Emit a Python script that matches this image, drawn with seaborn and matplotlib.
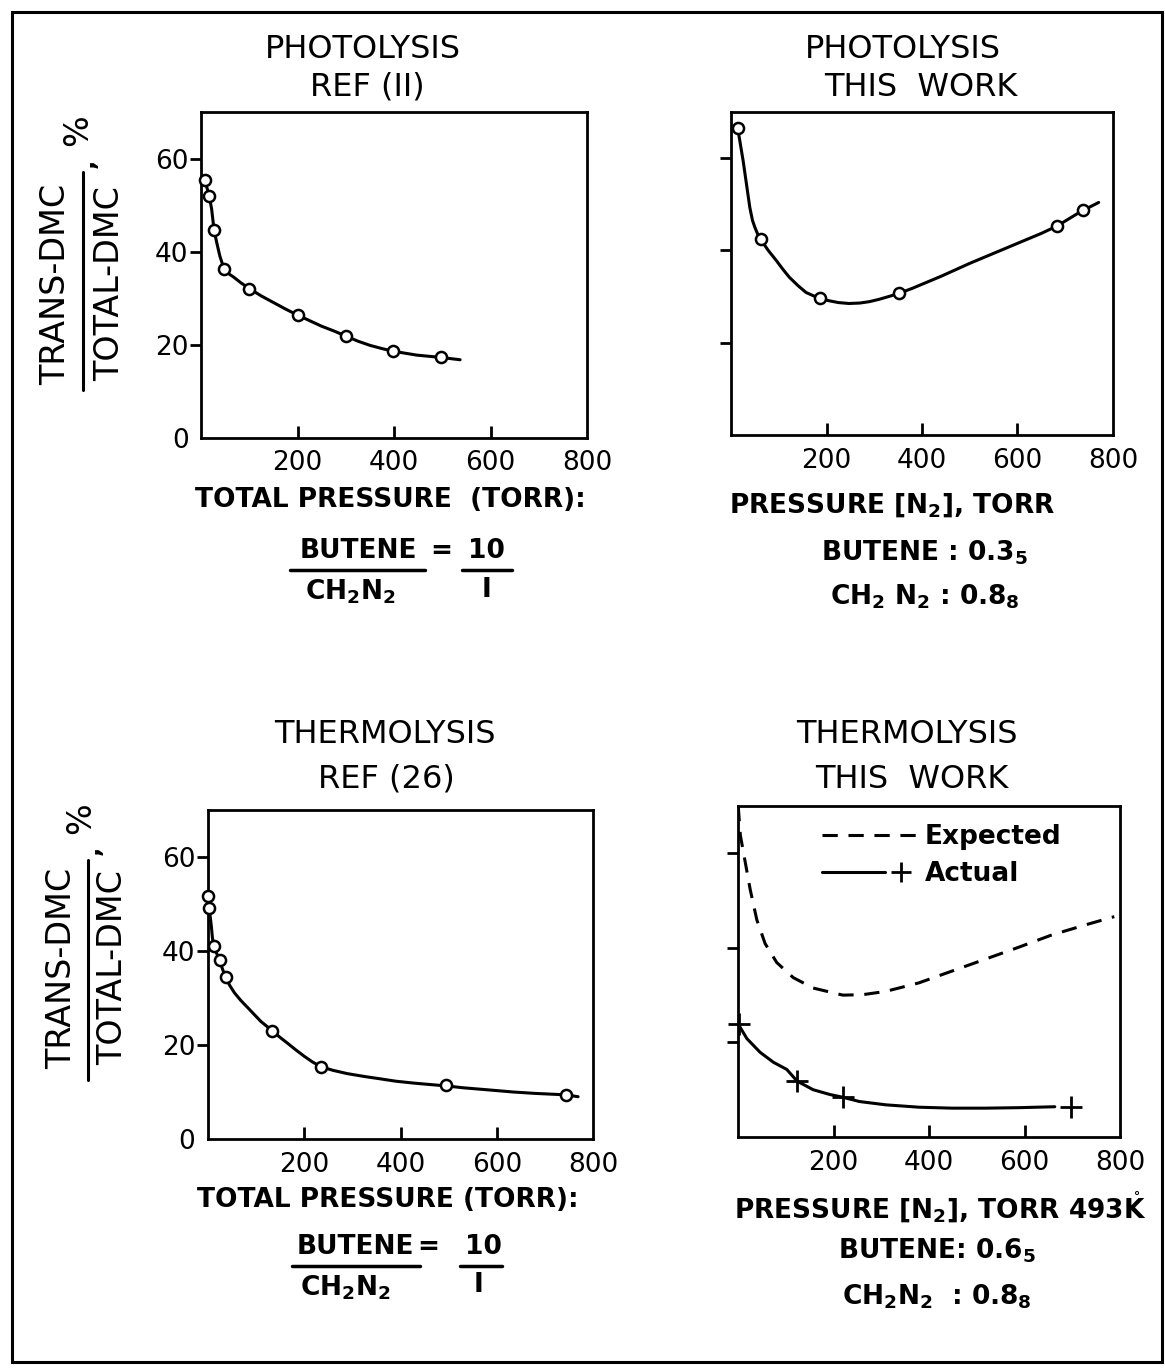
import numpy as np
import pandas as pd
import matplotlib
matplotlib.use("Agg")
import matplotlib.pyplot as plt
import seaborn as sns
from matplotlib.lines import Line2D
from matplotlib.patches import Rectangle
from matplotlib.legend_handler import HandlerTuple

# ---------------- data ----------------
# Panel A: photolysis, ref (11)
a_pts_x = [8, 17, 27, 48, 100, 200, 300, 397, 497]
a_pts_y = [55.3, 51.9, 44.7, 36.2, 32.1, 26.4, 21.9, 18.6, 17.3]
a_curve_x = [5, 8, 13, 17, 22, 27, 32.5, 39, 48, 57, 67, 83, 100, 125, 150, 175, 200,
             225, 250, 275, 300, 325, 350, 375, 400, 447, 497, 537]
a_curve_y = [56, 55.3, 53.5, 51.9, 49.2, 44.7, 42, 39.1, 36.2, 35.3, 34.6, 33.3, 32.1,
             30.5, 29.1, 27.7, 26.4, 25.2, 24, 23, 21.9, 20.8, 19.9, 19.2, 18.6, 17.8, 17.3, 16.8]

# Panel B: photolysis, this work
b_pts_x = [14, 62, 186, 352, 683, 737]
b_pts_y = [66.5, 42.4, 29.6, 30.7, 45.3, 48.7]
b_curve_x = [14, 18.7, 25.6, 32.5, 39.4, 45, 50, 56, 62, 78, 95, 108, 122, 140, 157, 172,
             186, 205, 225, 247, 270, 290, 310, 330, 352, 380, 410, 440, 470, 500, 530,
             560, 590, 620, 650, 683, 710, 737, 755, 770]
b_curve_y = [66.5, 63.6, 59.3, 54.3, 49.3, 46.5, 45, 43.5, 42.4, 40, 37.8, 36, 34.2, 32.4,
             30.9, 30.2, 29.6, 29.1, 28.7, 28.5, 28.6, 28.9, 29.4, 30, 30.7, 31.8, 33.1,
             34.4, 35.8, 37.2, 38.5, 39.8, 41.1, 42.4, 43.7, 45.3, 47, 48.7, 49.6, 50.4]

# Panel C: thermolysis, ref (26)
c_pts_x = [0.5, 2, 11.7, 24, 36.6, 134, 234, 495, 743]
c_pts_y = [51.6, 49.1, 41, 38, 34.4, 23, 15.4, 11.4, 9.4]
c_curve_x = [0.5, 2, 5, 7, 9, 11.7, 18, 24, 30, 36.6, 45, 55, 68, 83, 96, 110, 134, 150,
             165, 182, 200, 217, 234, 260, 290, 325, 358, 390, 427, 460, 495, 530, 565,
             600, 634, 680, 743, 769]
c_curve_y = [52, 49.1, 47, 45.2, 43, 41, 39.5, 38, 36.2, 34.4, 32.7, 31.1, 29.5, 27.9,
             26.5, 25, 23, 21.6, 20.4, 19, 17.6, 16.4, 15.4, 14.6, 13.9, 13.3, 12.8, 12.3,
             11.9, 11.6, 11.3, 10.9, 10.6, 10.3, 10, 9.7, 9.4, 9]

# Panel D: thermolysis, this work
d_exp_x = [0.5, 4.9, 15.2, 25.6, 39.5, 56.8, 81.1, 115.8, 157.4, 219.7, 261.3, 309.8,
           379, 448.4, 517.7, 587, 656.4, 725.7, 788]
d_exp_y = [70, 63.8, 58.1, 52.3, 45.9, 40.9, 36.9, 33.7, 31.5, 30, 30.1, 30.8, 32.6,
           35.1, 37.6, 40.1, 42.7, 44.8, 46.6]
d_act_pts_x = [1.5, 124, 220, 698]
d_act_pts_y = [24, 11.8, 8.4, 6.4]
d_act_curve_x = [1.5, 18.7, 46.4, 74.2, 102, 124, 157.4, 191.9, 219.7, 254.3, 309.8,
                 379, 448.4, 517.7, 587, 663.4]
d_act_curve_y = [23.7, 20.8, 17.9, 15.8, 14.3, 11.8, 10, 9, 8.4, 7.5, 6.8, 6.3, 6.1,
                 6.1, 6.2, 6.4]

x_ticks = [200, 400, 600, 800]
x_tick_labels = ["200", "400", "600", "800"]
y_ticks = [0, 20, 40, 60]
y_tick_labels = ["0", "20", "40", "60"]

# ---------------- style ----------------
sns.set_theme(style="ticks")
plt.rcParams["font.family"] = ["DejaVu Sans"]
plt.rcParams["text.color"] = "black"
plt.rcParams["mathtext.fontset"] = "custom"
plt.rcParams["mathtext.rm"] = "DejaVu Sans:bold"
plt.rcParams["mathtext.bf"] = "DejaVu Sans:bold"
plt.rcParams["mathtext.default"] = "bf"

W, H = 1165, 1370
fig = plt.figure(figsize=(W / 100, H / 100), dpi=100)
fig.patch.set_facecolor("white")


def rect(x0, y0, x1, y1):
    return [x0 / W, 1 - y1 / H, (x1 - x0) / W, (y1 - y0) / H]


def ftext(x, y, s, **kw):
    kw.setdefault("ha", "center")
    kw.setdefault("va", "center")
    kw.setdefault("color", "black")
    fig.text(x / W, 1 - y / H, s, **kw)


def fline(x0, y0, x1, y1, lw=2):
    fig.add_artist(Line2D([x0 / W, x1 / W], [1 - y0 / H, 1 - y1 / H],
                          transform=fig.transFigure, color="black", lw=lw))


def style_axes(ax, ylabels=True):
    ax.set_xlim(0, 800)
    ax.set_ylim(0, 70)
    for s in ax.spines.values():
        s.set_visible(True)
        s.set_linewidth(2)
        s.set_color("black")
    ax.set_facecolor("white")
    ax.set_xticks(x_ticks)
    ax.set_xticklabels(x_tick_labels, fontsize=19)
    ax.tick_params(axis="x", direction="in", length=9, width=2, pad=9, colors="black")
    if ylabels:
        ax.set_yticks(y_ticks)
        ax.set_yticklabels(y_tick_labels, fontsize=19)
        ax.yaxis.get_major_ticks()[0].tick1line.set_visible(False)
    else:
        ax.set_yticks(y_ticks[1:])
        ax.set_yticklabels([])
    ax.tick_params(axis="y", direction="out", length=8, width=2, pad=1, colors="black")
    ax.xaxis.get_major_ticks()[3].tick1line.set_visible(False)
    ax.set_xlabel("")
    ax.set_ylabel("")


def curve(ax, xs, ys, **kw):
    df = pd.DataFrame({"x": xs, "y": ys})
    sns.lineplot(data=df, x="x", y="y", ax=ax, sort=False, estimator=None,
                 color="black", linewidth=2.2, **kw)


def circles(ax, xs, ys):
    df = pd.DataFrame({"x": xs, "y": ys})
    sns.scatterplot(data=df, x="x", y="y", ax=ax, marker="o", s=64,
                    facecolor="white", edgecolor="black", linewidth=1.8, zorder=5,
                    clip_on=False)


# ---------------- panels ----------------
axA = fig.add_axes(rect(201, 112, 587, 438))
curve(axA, a_curve_x, a_curve_y)
circles(axA, a_pts_x, a_pts_y)
style_axes(axA)

axB = fig.add_axes(rect(731, 112, 1113, 435))
curve(axB, b_curve_x, b_curve_y)
circles(axB, b_pts_x, b_pts_y)
style_axes(axB, ylabels=False)

axC = fig.add_axes(rect(208, 810, 593, 1139))
curve(axC, c_curve_x, c_curve_y)
circles(axC, c_pts_x, c_pts_y)
style_axes(axC)

axD = fig.add_axes(rect(738, 806, 1120, 1137))
curve(axD, d_exp_x, d_exp_y, linestyle=(0, (5, 3.5)))
curve(axD, d_act_curve_x, d_act_curve_y)
dfp = pd.DataFrame({"x": d_act_pts_x, "y": d_act_pts_y})
sns.scatterplot(data=dfp, x="x", y="y", ax=axD, marker="+", s=230,
                color="black", linewidth=2, zorder=5, clip_on=False)
style_axes(axD, ylabels=False)

# legend for panel D
h_exp = Line2D([], [], color="black", lw=2.2, linestyle=(0, (5, 3.5)))
h_line = Line2D([], [], color="black", lw=2.2)
h_plus = Line2D([], [], color="black", marker="+", ls="none", ms=15, mew=2)
leg = axD.legend([h_exp, (h_line, h_line, h_plus)], ["Expected", "Actual"],
                 handler_map={tuple: HandlerTuple(ndivide=None, pad=0)},
                 loc="upper left", bbox_to_anchor=((822 - 738) / 382, 1 - (824 - 806) / 331),
                 frameon=False, borderpad=0, borderaxespad=0, handlelength=3.6,
                 handletextpad=0.3, labelspacing=0.42, labelcolor="black",
                 prop={"size": 19, "weight": "bold"})

# ---------------- titles ----------------
tkw = dict(fontsize=23)
ftext(363, 49, "PHOTOLYSIS", **tkw)
ftext(367, 87, "REF (II)", **tkw)
ftext(903, 49, "PHOTOLYSIS", **tkw)
ftext(921, 87, "THIS  WORK", **tkw)
ftext(385, 735, "THERMOLYSIS", **tkw)
ftext(386, 779, "REF (26)", **tkw)
ftext(907, 735, "THERMOLYSIS", **tkw)
ftext(912, 779, "THIS  WORK", **tkw)

# ---------------- y labels (fraction) ----------------
ykw = dict(fontsize=24, rotation=90)
for (xt, xb, yc, ytop, ybot, xp, yp, yc2) in [(56, 110, 284, 172, 390, 78, 130, 163),
                                               (62, 113, 968, 860, 1080, 81, 818, 850)]:
    ftext(xt, yc, "TRANS-DMC", **ykw)
    ftext(xb, yc, "TOTAL-DMC", **ykw)
    xm = (xt + xb) / 2
    fline(xm, ytop, xm, ybot, lw=2.2)
    ftext(xp, yp, "%", **ykw)
    ftext(xm + 4, yc2, ",", fontsize=18, fontweight="bold", rotation=90)

# ---------------- x labels and conditions ----------------
bkw = dict(fontsize=19, fontweight="bold")
ftext(390, 500, "TOTAL PRESSURE  (TORR):", **bkw)
ftext(358, 551, "BUTENE", **bkw)
ftext(441, 551, "=", **bkw)
ftext(486, 551, "10", **bkw)
fline(290, 570, 425, 570, lw=2.5)
fline(462, 570, 512, 570, lw=2.5)
ftext(350, 592, r"CH$_2$N$_2$", **bkw)
ftext(486, 590, "I", **bkw)

ftext(892, 505, r"PRESSURE [N$_2$], TORR", **bkw)
ftext(925, 553, r"BUTENE : 0.3$_5$", **bkw)
ftext(925, 597, r"CH$_2$ N$_2$ : 0.8$_8$", **bkw)

ftext(388, 1200, "TOTAL PRESSURE (TORR):", **bkw)
ftext(355, 1247, "BUTENE", **bkw)
ftext(428, 1247, "=", **bkw)
ftext(483, 1247, "10", **bkw)
fline(292, 1266, 420, 1266, lw=2.5)
fline(460, 1266, 502, 1266, lw=2.5)
ftext(345, 1288, r"CH$_2$N$_2$", **bkw)
ftext(478, 1285, "I", **bkw)

ftext(940, 1207, r"PRESSURE [N$_2$], TORR 493$\mathring{\mathrm{K}}$", **bkw)
ftext(937, 1251, r"BUTENE: 0.6$_5$", **bkw)
ftext(937, 1297, r"CH$_2$N$_2$  : 0.8$_8$", **bkw)

# ---------------- frame ----------------
fig.add_artist(Rectangle((12 / W, 1 - 1362 / H), (1162 - 12) / W, (1362 - 12) / H,
                         transform=fig.transFigure, fill=False, lw=2.2, color="black"))

fig.savefig("out.png", dpi=100, facecolor="white")
